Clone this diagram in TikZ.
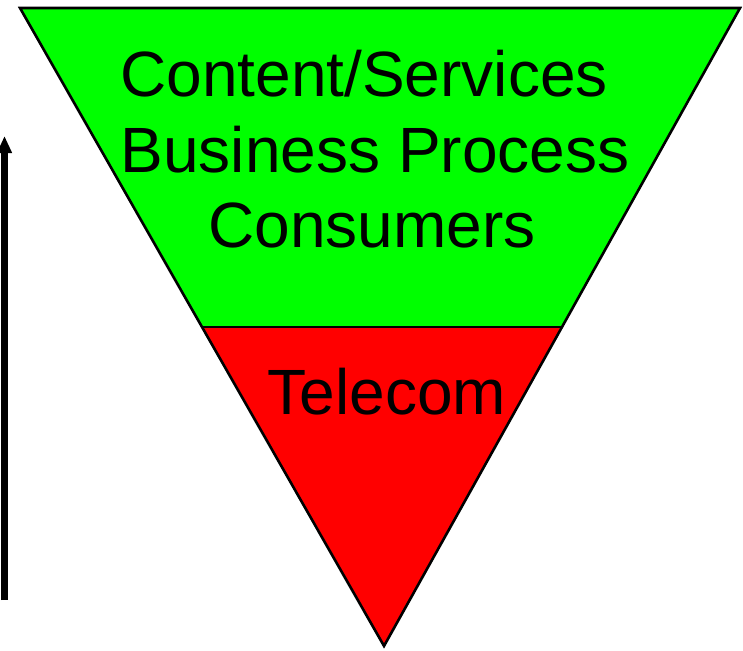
\documentclass[tikz,border=0pt]{standalone}
\usepackage{fontspec}
\setmainfont{Liberation Sans}
\usetikzlibrary{arrows.meta}
\begin{document}
\begin{tikzpicture}[x=1pt,y=-1pt,
  outline/.style={draw=black,line width=2.6pt,line join=miter},
  label/.style={anchor=base,inner sep=0pt,font=\fontsize{64}{64}\selectfont}]
\useasboundingbox (0,0) rectangle (743,650);
\coordinate (TL) at (20,8);
\coordinate (TR) at (740,8);
\coordinate (B) at (384,646);
\coordinate (ML) at (202,327);
\coordinate (MR) at (561,327);
\fill[green] (TL) -- (TR) -- (MR) -- (ML) -- cycle;
\fill[red] (ML) -- (MR) -- (B) -- cycle;
\draw[outline] (TL) -- (TR) -- (B) -- cycle;
\draw[outline] (ML) -- (MR);
\node[label] (l1) at (364,97) {Content/Services};
\node[label] (l2) at (375,172) {Business Process};
\node[label] (l3) at (372,247) {Consumers};
\node[label] (t) at (387,414) {Telecom};
\coordinate (as) at (4.5,600);
\coordinate (ae) at (4.5,136);
\draw[line width=7pt,-{Triangle[width=14pt,length=17pt]}] (as) -- (ae);
\end{tikzpicture}
\end{document}
